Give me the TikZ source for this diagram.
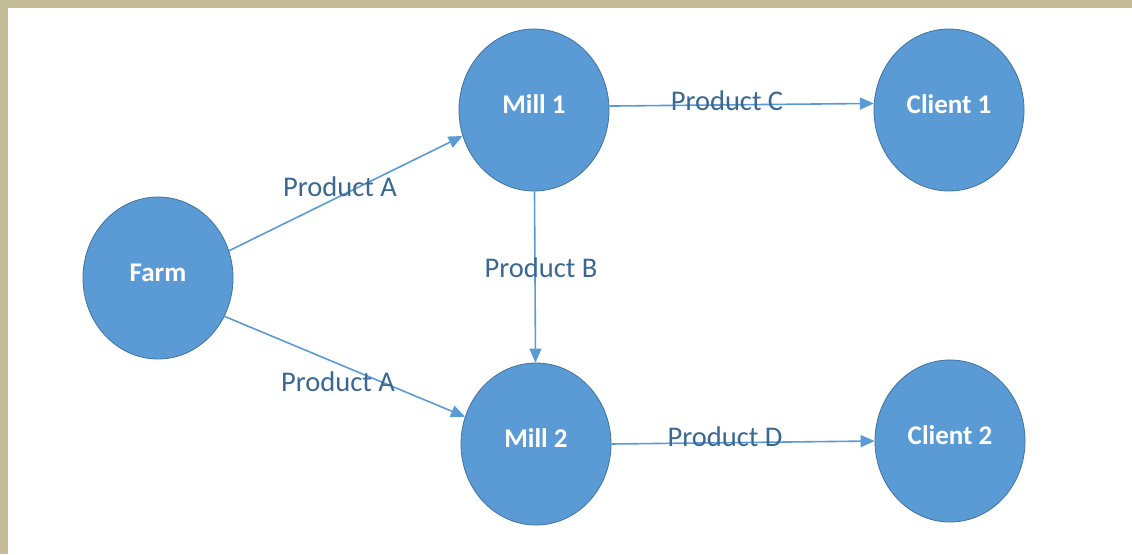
\documentclass[tikz,border=0pt]{standalone}
\usepackage{fontspec}
\setmainfont{Carlito}
\usetikzlibrary{shapes.geometric,arrows.meta}
\definecolor{nodeblue}{HTML}{5B9BD5}
\definecolor{nodeedge}{HTML}{41719C}
\definecolor{labelblue}{HTML}{3A6893}
\definecolor{beige}{HTML}{C4BD97}
\newcommand{\ntxt}[1]{\smash{\raisebox{-3.5pt}{#1}}}
\tikzset{
  circ/.style={ellipse, fill=nodeblue, draw=nodeedge, line width=0.8pt,
    minimum width=150pt, minimum height=162pt, inner sep=0pt,
    text=white, font=\fontsize{27}{32}\selectfont\bfseries},
  flow/.style={draw=nodeblue, line width=1.6pt, -{Triangle[length=14pt,width=12pt]}},
  lbl/.style={text=labelblue, font=\fontsize{28.5}{33}\selectfont, inner sep=0pt}
}
\begin{document}
\begin{tikzpicture}[x=1pt,y=-1pt]
\useasboundingbox (0,0) rectangle (1132,554);
\fill[white] (0,0) rectangle (1132,554);
\fill[beige] (0,0) rectangle (1132,8);
\fill[beige] (0,0) rectangle (8,554);
\node[circ] (farm) at (158,278) {\ntxt{Farm}};
\node[circ] (m1) at (534,110) {\ntxt{Mill 1}};
\node[circ] (c1) at (949,110) {\ntxt{Client 1}};
\node[circ] (m2) at (536,444) {\ntxt{Mill 2}};
\node[circ] (c2) at (950,441) {\ntxt{Client 2}};
\draw[flow] (farm.21) -- (m1.200);
\draw[flow] (farm.330) -- (m2.159);
\draw[flow] (m1) -- (m2);
\draw[flow] (m1.3) -- (c1.175);
\draw[flow] (m2.0) -- (c2.180);
\node[lbl] (la1) at (340,187) {Product A};
\node[lbl] (la2) at (338,382) {Product A};
\node[lbl] (lb) at (541,268) {Product B};
\node[lbl] (lc) at (727,101) {Product C};
\node[lbl] (ld) at (725,437) {Product D};
\end{tikzpicture}
\end{document}
